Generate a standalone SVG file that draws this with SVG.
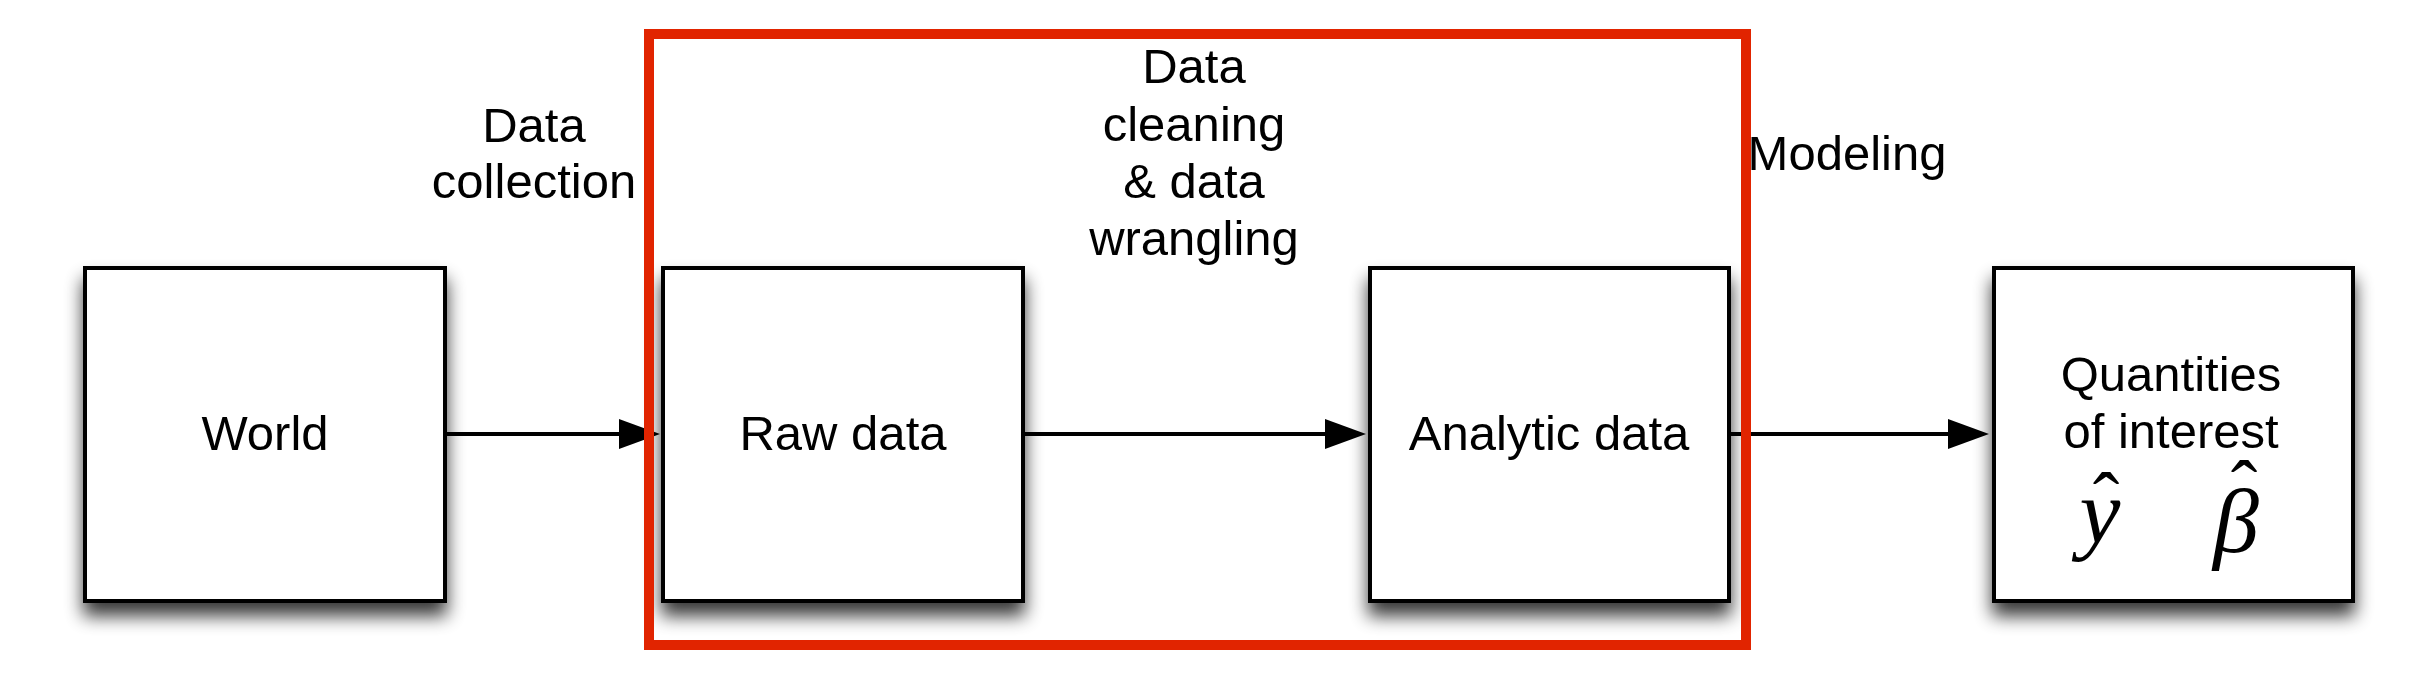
<svg xmlns="http://www.w3.org/2000/svg" width="2433" height="699" viewBox="0 0 2433 699">
<defs>
<style>
.box{fill:#fff;stroke:#000;stroke-width:4;filter:url(#sh)}
.lbl{font-family:"Liberation Sans",Arial,sans-serif;font-size:49px;fill:#000;text-anchor:middle}
.math{font-family:"Liberation Serif","Times New Roman",serif;font-style:italic;font-size:92px;fill:#000;text-anchor:middle}
.hat{font-family:"Liberation Serif","Times New Roman",serif;font-style:normal;font-size:80px}
.conn{stroke:#000;stroke-width:4;fill:none;marker-end:url(#ah)}
</style>
<filter id="sh" x="-20%" y="-20%" width="140%" height="150%">
<feGaussianBlur in="SourceAlpha" stdDeviation="9"/>
<feOffset dx="0" dy="13" result="b"/>
<feComponentTransfer><feFuncA type="linear" slope="0.78"/></feComponentTransfer>
<feMerge><feMergeNode/><feMergeNode in="SourceGraphic"/></feMerge>
</filter>
<marker id="ah" markerUnits="userSpaceOnUse" markerWidth="42" markerHeight="32" refX="21" refY="15" orient="auto">
<path d="M0,0 L41,15 L0,30 Z" fill="#000"/>
</marker>
</defs>
<rect width="2433" height="699" fill="#fff"/>
<g id="connectors">
<line class="conn" x1="445" y1="434" x2="640" y2="434"/>
<line class="conn" x1="1023" y1="434" x2="1346" y2="434"/>
<line class="conn" x1="1729" y1="434" x2="1969" y2="434"/>
</g>
<g id="world">
<rect class="box" x="85" y="268" width="360" height="333"/>
<text class="lbl" x="265" y="450">World</text>
</g>
<g id="raw-data">
<rect class="box" x="663" y="268" width="360" height="333"/>
<text class="lbl" x="843" y="450">Raw data</text>
</g>
<g id="analytic-data">
<rect class="box" x="1370" y="268" width="359" height="333"/>
<text class="lbl" x="1549" y="450">Analytic data</text>
</g>
<g id="quantities">
<rect class="box" x="1994" y="268" width="359" height="333"/>
<text class="lbl" x="2171" y="391">Quantities</text>
<text class="lbl" x="2171" y="448">of interest</text>
<text class="math"><tspan x="2100" y="543">y</tspan><tspan class="hat" x="2106" y="528">ˆ</tspan></text>
<text class="math"><tspan x="2236" y="552">β</tspan><tspan class="hat" x="2244" y="516">ˆ</tspan></text>
</g>
<g id="label-collection">
<text class="lbl" x="534" y="142">Data</text>
<text class="lbl" x="534" y="198">collection</text>
</g>
<g id="label-cleaning">
<text class="lbl" x="1194" y="83">Data</text>
<text class="lbl" x="1194" y="141">cleaning</text>
<text class="lbl" x="1194" y="198">&amp; data</text>
<text class="lbl" x="1194" y="255">wrangling</text>
</g>
<g id="label-modeling">
<text class="lbl" x="1847" y="170">Modeling</text>
</g>
<g id="highlight">
<rect x="649" y="34" width="1097" height="611" fill="none" stroke="#e12400" stroke-width="10"/>
</g>
</svg>
